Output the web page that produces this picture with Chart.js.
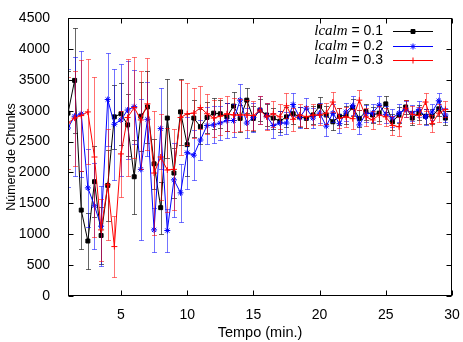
<!DOCTYPE html>
<html>
<head>
<meta charset="utf-8">
<script src="https://cdn.jsdelivr.net/npm/chart.js@4.4.1/dist/chart.umd.min.js"></script>
<style>
  html, body { margin: 0; padding: 0; background: #fff; }
</style>
</head>
<body>
<canvas id="grafico" width="463" height="342"></canvas>
<script>
(function () {
  "use strict";

  // tempo (min.)
  const tempo = [1, 1.5, 2, 2.5, 3, 3.5, 4, 4.5, 5, 5.5,
    6, 6.5, 7, 7.5, 8, 8.5, 9, 9.5, 10, 10.5,
    11, 11.5, 12, 12.5, 13, 13.5, 14, 14.5, 15, 15.5,
    16, 16.5, 17, 17.5, 18, 18.5, 19, 19.5, 20, 20.5,
    21, 21.5, 22, 22.5, 23, 23.5, 24, 24.5, 25, 25.5,
    26, 26.5, 27, 27.5, 28, 28.5, 29, 29.5];

  // lcalm = 0.1
  const chunks01 = [2960, 3490, 1390, 890, 1850, 980, 1790, 2900, 2950, 2770,
    1930, 2910, 3060, 2140, 1430, 2880, 1990, 2980, 2450, 2880,
    2740, 2890, 2960, 2950, 2900, 3075, 2875, 3170, 2875, 3010,
    2930, 2880, 2830, 2900, 2950, 2900, 2875, 2930, 3075, 2930,
    2820, 2910, 2930, 3050, 2875, 2985, 2930, 2960, 3110, 2820,
    2930, 3060, 2880, 2970, 2910, 2910, 3030, 2880];
  const erro01 = [680, 850, 630, 450, 570, 460, 580, 520, 500, 500,
    600, 560, 580, 400, 420, 640, 400, 530, 500, 300,
    280, 250, 250, 230, 230, 220, 220, 200, 200, 180,
    180, 170, 170, 160, 160, 160, 150, 150, 150, 150,
    140, 140, 140, 140, 140, 130, 130, 130, 130, 130,
    130, 120, 120, 120, 120, 120, 120, 110];

  // lcalm = 0.2
  const chunks02 = [2720, 2910, 2950, 1750, 1460, 1130, 3180, 2780, 2850, 3010,
    3065, 2050, 2860, 1070, 2710, 1060, 1880, 1670, 2320, 2280,
    2525, 2760, 2770, 2800, 2840, 2840, 3170, 2800, 2890, 3010,
    2910, 2760, 2800, 2800, 3100, 2890, 3040, 2880, 2960, 2750,
    2960, 2790, 2980, 3080, 2770, 2950, 2960, 3090, 2940, 2880,
    2960, 3020, 2960, 3020, 2900, 2980, 3160, 2930];
  const erro02 = [960, 960, 1020, 630, 700, 650, 750, 900, 900, 800,
    600, 1140, 600, 350, 650, 350, 600, 470, 580, 400,
    320, 300, 300, 280, 280, 260, 260, 240, 230, 220,
    210, 200, 190, 180, 180, 170, 170, 160, 160, 160,
    150, 150, 150, 150, 150, 140, 140, 140, 140, 140,
    140, 130, 130, 130, 130, 130, 130, 120];

  // lcalm = 0.3
  const chunks03 = [2800, 2880, 2920, 2980, 2250, 1070, 1800, 800, 2300, 2890,
    3050, 2850, 3110, 1990, 2250, 2040, 2050, 2890, 2950, 2960,
    3050, 2950, 2880, 2910, 2950, 2930, 2930, 2930, 2920, 3010,
    2900, 2950, 2900, 3080, 2860, 2930, 2900, 2930, 2930, 2960,
    3140, 2880, 2900, 2870, 3170, 2900, 2850, 2930, 2900, 2760,
    2740, 3040, 2940, 2920, 3140, 2790, 2960, 3020];
  const erro03 = [750, 770, 900, 850, 1300, 500, 900, 500, 700, 950,
    820, 800, 750, 1000, 700, 680, 650, 600, 500, 400,
    350, 320, 300, 300, 280, 280, 260, 250, 240, 230,
    220, 210, 200, 200, 190, 180, 180, 170, 170, 170,
    160, 160, 160, 160, 160, 150, 150, 150, 150, 150,
    150, 140, 140, 140, 140, 140, 140, 130];

  const legendas = ['0.1', '0.2', '0.3'];
  const xTicks = [5, 10, 15, 20, 25, 30];

  const sans = 'Liberation Sans, Arial, sans-serif';
  const serif = 'Liberation Serif, Times New Roman, serif';

  function pontos(serie) {
    return tempo.map((t, i) => ({ x: t, y: serie[i] }));
  }

  // barras de erro, desenhadas antes da linha de cada serie
  const barrasErro = {
    id: 'barrasErro',
    beforeDatasetDraw(chart, args) {
      const ds = chart.data.datasets[args.index];
      const { ctx, chartArea: a, scales: { x, y } } = chart;
      ctx.save();
      ctx.beginPath();
      ctx.rect(a.left, a.top, a.right - a.left, a.bottom - a.top);
      ctx.clip();
      ctx.strokeStyle = ds.corErro;
      ctx.lineWidth = 1;
      ctx.beginPath();
      ds.data.forEach((p, i) => {
        const px = Math.round(x.getPixelForValue(p.x)) + 0.5;
        const top = Math.round(y.getPixelForValue(p.y + ds.erro[i])) + 0.5;
        const bot = Math.round(y.getPixelForValue(p.y - ds.erro[i])) + 0.5;
        ctx.moveTo(px, top); ctx.lineTo(px, bot);
        ctx.moveTo(px - 2.5, top); ctx.lineTo(px + 2.5, top);
        ctx.moveTo(px - 2.5, bot); ctx.lineTo(px + 2.5, bot);
      });
      ctx.stroke();
      ctx.restore();
    }
  };

  // moldura com ticks para dentro e legenda no canto
  const moldura = {
    id: 'moldura',
    afterDraw(chart) {
      const { ctx, chartArea: a, scales: { x, y } } = chart;
      const L = Math.round(a.left) + 0.5, R = Math.round(a.right) - 0.5;
      const T = Math.round(a.top) + 0.5, B = Math.round(a.bottom) - 0.5;
      ctx.save();
      ctx.strokeStyle = '#000';
      ctx.lineWidth = 1;
      ctx.strokeRect(L, T, R - L, B - T);
      ctx.beginPath();
      y.ticks.forEach(t => {
        const py = Math.round(y.getPixelForValue(t.value)) + 0.5;
        ctx.moveTo(L, py); ctx.lineTo(L + 5, py);
        ctx.moveTo(R, py); ctx.lineTo(R - 5, py);
      });
      xTicks.forEach(v => {
        const px = Math.round(x.getPixelForValue(v)) + 0.5;
        ctx.moveTo(px, B); ctx.lineTo(px, B - 5);
        ctx.moveTo(px, T); ctx.lineTo(px, T + 5);
      });
      ctx.stroke();

      // legenda
      chart.data.datasets.forEach((ds, i) => {
        const ly = 31 + i * 14.7;
        const txt = ' = ' + legendas[i];
        ctx.font = '14px ' + sans;
        ctx.fillStyle = '#000';
        ctx.textBaseline = 'middle';
        ctx.textAlign = 'right';
        const xr = 383;
        ctx.fillText(txt, xr, ly);
        const w = ctx.measureText(txt).width;
        ctx.font = 'italic 15px ' + serif;
        ctx.fillText('lcalm', xr - w, ly);

        ctx.strokeStyle = ds.borderColor;
        ctx.lineWidth = 1;
        ctx.beginPath();
        ctx.moveTo(393, Math.round(ly) + 0.5);
        ctx.lineTo(433, Math.round(ly) + 0.5);
        ctx.stroke();
        ctx.fillStyle = ds.borderColor;
        Chart.helpers.drawPoint(ctx, {
          pointStyle: ds.pointStyle, radius: ds.pointRadius,
          borderWidth: 1, rotation: 0
        }, 413, Math.round(ly) + 0.5);
      });
      ctx.restore();
    }
  };

  const ctx = document.getElementById('grafico').getContext('2d');
  new Chart(ctx, {
    type: 'line',
    data: {
      datasets: [{
        label: 'lcalm = 0.1',
        data: pontos(chunks01),
        erro: erro01,
        corErro: 'rgba(0,0,0,0.6)',
        borderColor: '#000000',
        backgroundColor: '#000000',
        pointStyle: 'rect',
        pointRadius: 2.8,
        order: 3
      }, {
        label: 'lcalm = 0.2',
        data: pontos(chunks02),
        erro: erro02,
        corErro: 'rgba(0,0,255,0.55)',
        borderColor: '#0000ff',
        backgroundColor: '#0000ff',
        pointStyle: 'star',
        pointRadius: 3,
        order: 2
      }, {
        label: 'lcalm = 0.3',
        data: pontos(chunks03),
        erro: erro03,
        corErro: 'rgba(255,0,0,0.55)',
        borderColor: '#ff0000',
        backgroundColor: '#ff0000',
        pointStyle: 'cross',
        pointRadius: 3,
        order: 1
      }]
    },
    options: {
      responsive: false,
      animation: false,
      layout: { padding: { left: 0, right: 11, top: 18, bottom: 0 } },
      elements: {
        line: { borderWidth: 1, tension: 0 },
        point: { borderWidth: 1, hoverRadius: 3 }
      },
      plugins: {
        legend: { display: false },
        tooltip: { enabled: false }
      },
      scales: {
        x: {
          type: 'linear',
          min: 1,
          max: 30,
          afterBuildTicks: s => { s.ticks = xTicks.map(v => ({ value: v })); },
          afterFit: s => { s.height = 46; s.paddingLeft = 0; s.paddingRight = 0; },
          grid: { display: false },
          border: { display: false },
          ticks: { color: '#000', font: { family: sans, size: 14 }, padding: 3, maxRotation: 0 },
          title: {
            display: true, text: 'Tempo (min.)', color: '#000',
            font: { family: sans, size: 14.5 }, padding: { top: 0, bottom: 0 }
          }
        },
        y: {
          min: 0,
          max: 4500,
          afterFit: s => { s.width = 68; s.paddingTop = 0; s.paddingBottom = 0; },
          grid: { display: false },
          border: { display: false },
          ticks: {
            stepSize: 500, color: '#000', font: { family: sans, size: 14 }, padding: 10,
            callback: v => String(v)
          },
          title: {
            display: true, text: 'Número de Chunks', color: '#000',
            font: { family: sans, size: 12.5 }, padding: { top: 4.5, bottom: 0 }
          }
        }
      }
    },
    plugins: [barrasErro, moldura]
  });
})();
</script>
</body>
</html>
